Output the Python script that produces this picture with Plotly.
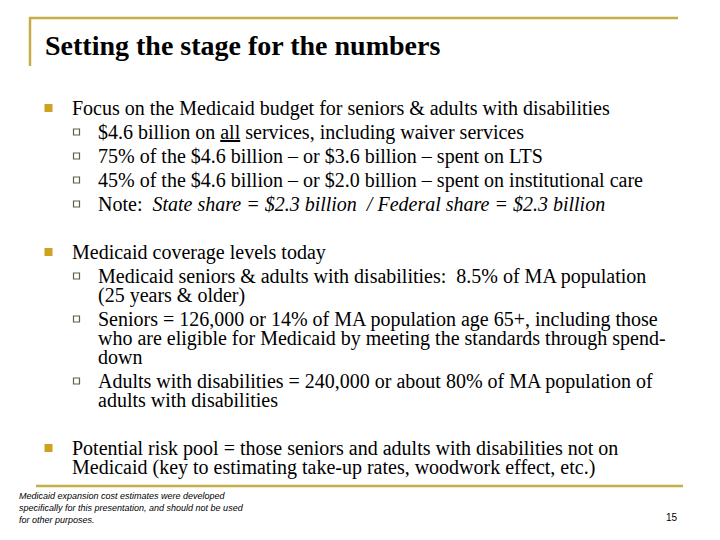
import plotly.graph_objects as go

# ---- slide content ----
title_text = "Setting the stage for the numbers"

body_lines = [
    "Focus on the Medicaid budget for seniors &amp; adults with disabilities",
    "$4.6 billion on <u>all</u> services, including waiver services",
    "75% of the $4.6 billion \u2013 or $3.6 billion \u2013 spent on LTS",
    "45% of the $4.6 billion \u2013 or $2.0 billion \u2013 spent on institutional care",
    "Note:\u00a0 <i>State share = $2.3 billion\u00a0 / Federal share = $2.3 billion</i>",
    "Medicaid coverage levels today",
    "Medicaid seniors &amp; adults with disabilities:\u00a0 8.5% of MA population",
    "(25 years &amp; older)",
    "Seniors = 126,000 or 14% of MA population age 65+, including those",
    "who are eligible for Medicaid by meeting the standards through spend-",
    "down",
    "Adults with disabilities = 240,000 or about 80% of MA population of",
    "adults with disabilities",
    "Potential risk pool = those seniors and adults with disabilities not on",
    "Medicaid (key to estimating take-up rates, woodwork effect, etc.)",
]
# level: 1 = main bullet, 2 = sub bullet; kind: "new" item / "cont" wrapped line / "sec" new section
body_levels = [1, 2, 2, 2, 2, 1, 2, 2, 2, 2, 2, 2, 2, 1, 1]
body_kinds = ["new", "new", "new", "new", "new",
              "sec", "new", "cont", "new", "cont", "cont", "new", "cont",
              "sec", "cont"]

footnote_lines = [
    "Medicaid expansion cost estimates were developed",
    "specifically for this presentation, and should not be used",
    "for other purposes.",
]
page_number = "15"

# ---- layout constants ----
W, H = 720, 540
OFF = 8  # page body margin
GOLD_LINE = "#C4AE45"
BULLET_GOLD = "#CFA11F"
SUB_BULLET = "#56654A"
SERIF = "Liberation Serif"

y0 = 108
step = {"new": 24, "cont": 19, "sec": 48}
x_text = {1: 70, 2: 96}
x_bullet = {1: 48.5, 2: 76.5}

ys = []
y = y0
for i, k in enumerate(body_kinds):
    if i > 0:
        y += step[k]
    ys.append(y)

fig = go.Figure()

annotations = []
main_bx, main_by, sub_bx, sub_by = [], [], [], []
for txt, lvl, kind, yy in zip(body_lines, body_levels, body_kinds, ys):
    annotations.append(dict(
        x=x_text[lvl], y=yy, text=txt, showarrow=False,
        xanchor="left", yanchor="middle", xref="x", yref="y",
        font=dict(family=SERIF, size=20, color="#000000"),
    ))
    if kind != "cont":
        if lvl == 1:
            main_bx.append(x_bullet[1]); main_by.append(yy)
        else:
            sub_bx.append(x_bullet[2]); sub_by.append(yy)

fig.add_trace(go.Scatter(
    x=main_bx, y=main_by, mode="markers",
    marker=dict(symbol="square", size=8, color=BULLET_GOLD, line=dict(width=0)),
    hoverinfo="skip", showlegend=False))
fig.add_trace(go.Scatter(
    x=sub_bx, y=sub_by, mode="markers",
    marker=dict(symbol="square-open", size=6, color=SUB_BULLET, line=dict(width=1.2)),
    hoverinfo="skip", showlegend=False))

# title
annotations.append(dict(
    x=43, y=45, text="<b>" + title_text + "</b>", showarrow=False,
    xanchor="left", yanchor="middle", xref="x", yref="y",
    font=dict(family=SERIF, size=28, color="#000000")))

# footnote
for i, t in enumerate(footnote_lines):
    annotations.append(dict(
        x=17, y=496 + i * 12, text="<i>" + t + "</i>", showarrow=False,
        xanchor="left", yanchor="middle", xref="x", yref="y",
        font=dict(family="Liberation Sans Narrow, Liberation Sans", size=9, color="#000000")))

annotations.append(dict(
    x=672, y=517, text=page_number, showarrow=False,
    xanchor="center", yanchor="middle", xref="x", yref="y",
    font=dict(family="Liberation Sans Narrow, Liberation Sans", size=10, color="#000000")))

shapes = [
    dict(type="line", x0=29, x1=678, y0=18, y1=18, xref="x", yref="y",
         line=dict(color=GOLD_LINE, width=2.5)),
    dict(type="line", x0=30, x1=30, y0=17, y1=66, xref="x", yref="y",
         line=dict(color=GOLD_LINE, width=2.5)),
    dict(type="line", x0=36, x1=683, y0=486, y1=486, xref="x", yref="y",
         line=dict(color=GOLD_LINE, width=2.5)),
]

fig.update_layout(
    width=W, height=H,
    margin=dict(l=0, r=0, t=0, b=0),
    paper_bgcolor="white", plot_bgcolor="white",
    xaxis=dict(range=[OFF, W + OFF], visible=False, fixedrange=True),
    yaxis=dict(range=[H + OFF, OFF], visible=False, fixedrange=True),
    annotations=annotations, shapes=shapes,
)

fig.write_html("out.html")
